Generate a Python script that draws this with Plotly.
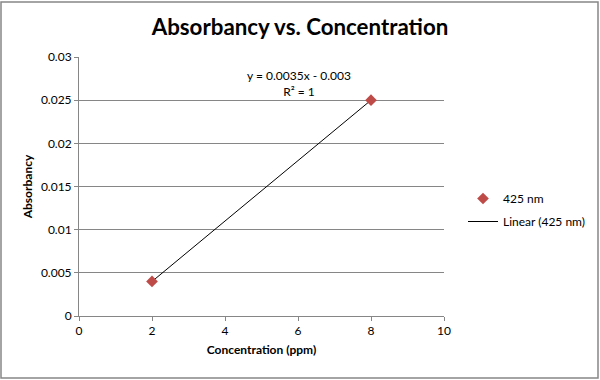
import plotly.graph_objects as go

conc = [2, 8]
absorb = [0.004, 0.025]
trend_x = [2, 8]
trend_y = [0.004, 0.025]
x_ticks = [0, 2, 4, 6, 8, 10]
y_ticks = [0, 0.005, 0.01, 0.015, 0.02, 0.025, 0.03]
y_tick_text = ["0", "0.005", "0.01", "0.015", "0.02", "0.025", "0.03"]

FONT = "Lato"
GRID = "#868686"

fig = go.Figure()
fig.add_trace(go.Scatter(x=trend_x, y=trend_y, mode="lines", name="Linear (425 nm)",
                         line=dict(color="black", width=1), legendrank=2, legendgroup="b"))
fig.add_trace(go.Scatter(x=conc, y=absorb, mode="markers", name="425 nm",
                         marker=dict(symbol="diamond", size=9, color="#BE4B48"),
                         legendrank=1, legendgroup="a"))

L, R, T, B = 79, 444, 57, 316
W, H = 600, 380
pw, ph = R - L, B - T

fig.update_layout(
    width=W, height=H, autosize=False,
    margin=dict(l=L, r=W - R, t=T, b=H - B, autoexpand=False),
    paper_bgcolor="white", plot_bgcolor="white",
    font=dict(family=FONT, size=12, color="black"),
    title=dict(text="<b>Absorbancy vs. Concentration</b>", x=0.5, xanchor="center",
               y=1 - 27 / H, yanchor="middle", font=dict(size=22.3, family=FONT)),
    xaxis=dict(range=[0, 10], tickvals=x_ticks, showgrid=False, showline=True,
               linecolor=GRID, linewidth=1, ticks="outside", ticklen=4, tickcolor=GRID,
               zeroline=False, title=dict(text="<b>Concentration (ppm)</b>", font=dict(size=12), standoff=8)),
    yaxis=dict(range=[0, 0.03], tickvals=y_ticks, ticktext=y_tick_text, showgrid=True,
               gridcolor=GRID, gridwidth=1, showline=True, linecolor=GRID, linewidth=1,
               ticks="outside", ticklen=4, tickcolor=GRID, zeroline=False,
               title=dict(text="<b>Absorbancy</b>", font=dict(size=12), standoff=5)),
    legend=dict(xref="container", yref="container", x=463 / W, y=1 - 210 / H,
                xanchor="left", yanchor="middle",
                font=dict(size=12), bgcolor="rgba(0,0,0,0)", tracegroupgap=4),
    showlegend=True,
)

fig.add_annotation(text="y = 0.0035x - 0.003<br>R² = 1", x=(299 - L) / pw, y=(B - 83) / ph,
                   xref="paper", yref="paper", xanchor="center", yanchor="middle",
                   showarrow=False, font=dict(size=12), align="center")

fig.add_shape(type="rect", xref="paper", yref="paper",
              x0=(1 - L) / pw, x1=(598 - L) / pw, y0=(B - 378) / ph, y1=(B - 2) / ph,
              line=dict(color=GRID, width=1.5), fillcolor="rgba(0,0,0,0)", layer="below")

post = (
    "document.body.style.margin='0';"
    "document.body.style.overflow='hidden';"
    "var gd=document.getElementById('{plot_id}');"
    "Plotly.relayout(gd,{width:600,height:380});"
)

fig.write_html("out.html", post_script=post,
               config={"displayModeBar": False, "responsive": False})
